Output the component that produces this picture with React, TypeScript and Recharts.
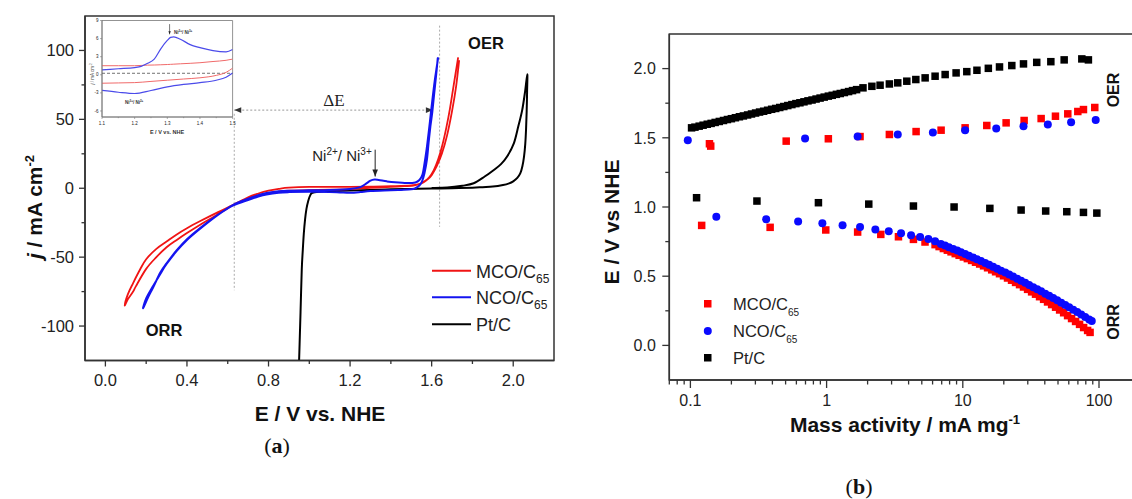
import React from 'react';
import {
  LineChart, Line, XAxis, YAxis, ReferenceLine, ReferenceArea,
  ScatterChart, Scatter,
} from 'recharts';

// ---------- panel (a): CV curves, E / V vs NHE  vs  j / mA cm-2 ----------
const MCO_E = [1.73, 1.718, 1.705, 1.69, 1.672, 1.652, 1.632, 1.61, 1.588, 1.565, 1.54, 1.51, 1.45, 1.4, 1.3, 1.2, 1.1, 1.0, 0.9, 0.85, 0.8, 0.75, 0.7, 0.65, 0.627, 0.55, 0.463, 0.4, 0.35, 0.3, 0.25, 0.2, 0.15, 0.136, 0.11, 0.095, 0.11, 0.136, 0.17, 0.2, 0.25, 0.3, 0.35, 0.4, 0.463, 0.55, 0.627, 0.7, 0.75, 0.8, 0.85, 0.9, 1.0, 1.1, 1.2, 1.3, 1.4, 1.5, 1.55, 1.58, 1.6, 1.625, 1.65, 1.675, 1.7, 1.72, 1.735];
const MCO_J = [95, 84, 72, 58, 44, 31, 21, 13, 8, 5, 3, 2, 1.4, 1.0, 0.3, -0.6, -1.1, -1.4, -1.8, -2.5, -3.5, -5.3, -7.3, -10.2, -12, -19, -26.6, -32.5, -37.5, -42.8, -50, -58.5, -71, -75, -80.5, -85, -77, -68.8, -59, -51.5, -44, -38.7, -33.5, -29, -24, -17.5, -12, -6.5, -3.8, -1.8, -0.5, 0.4, 1.0, 1.0, 1.0, 1.2, 1.5, 2.1, 3.6, 6.5, 9.5, 16, 25, 38, 56, 74, 93];

const NCO_E = [1.63, 1.622, 1.612, 1.603, 1.594, 1.585, 1.577, 1.565, 1.553, 1.54, 1.52, 1.5, 1.45, 1.4, 1.3, 1.25, 1.2, 1.15, 1.1, 1.0, 0.9, 0.85, 0.79, 0.75, 0.7, 0.627, 0.55, 0.463, 0.4, 0.35, 0.3, 0.27, 0.234, 0.21, 0.185, 0.2, 0.234, 0.27, 0.3, 0.35, 0.4, 0.463, 0.55, 0.627, 0.7, 0.79, 0.85, 0.9, 1.0, 1.1, 1.2, 1.25, 1.28, 1.3, 1.32, 1.34, 1.38, 1.42, 1.48, 1.52, 1.54, 1.555, 1.565, 1.575, 1.585, 1.595, 1.605, 1.615, 1.625, 1.632];
const NCO_J = [94.6, 82, 68, 55, 45, 33, 21, 11, 5, 2, 0, -0.8, -1.2, -1.5, -2.0, -2.8, -3.3, -3.0, -2.7, -2.6, -2.8, -3.2, -4.5, -6, -8.5, -12.5, -19.5, -29, -37, -45, -54.5, -61, -72, -79, -87, -80, -71, -62, -55, -45.5, -37.5, -29.5, -19.5, -12, -7.5, -3.5, -2.2, -1.8, -1.5, -1.2, -0.5, 0.8, 3.5, 5.5, 6.3, 6.0, 5.0, 4.3, 3.8, 4.2, 6, 10, 18, 28, 40, 53, 66, 78, 88, 95];

const PTC_E = [0.95, 0.953, 0.957, 0.963, 0.968, 0.973, 0.979, 0.986, 0.995, 1.005, 1.015, 1.05, 1.1, 1.2, 1.3, 1.4, 1.5, 1.6, 1.7, 1.8, 1.85, 1.9, 1.95, 1.98, 2.0, 2.02, 2.035, 2.045, 2.053, 2.059, 2.063, 2.066, 2.068, 2.069, 2.058, 2.044, 2.025, 2.003, 1.97, 1.94, 1.905, 1.86, 1.806, 1.75, 1.676, 1.6];
const PTC_J = [-125, -110, -90, -59, -45, -33, -23, -15, -9, -5, -3.3, -2.5, -2, -1.6, -1.2, -0.8, -0.5, -0.2, 0, 0.4, 0.8, 1.2, 2.3, 3.5, 5, 7.5, 11, 16, 23, 32, 43, 56, 70, 82.8, 70, 56.7, 45, 32.6, 23, 17.5, 13.3, 8.5, 3.6, 1.8, 0.5, 0.2];

const A_X_TICKS = [0, 0.2, 0.4, 0.6, 0.8, 1.0, 1.2, 1.4, 1.6, 1.8, 2.0];
const A_X_MAJOR = [0, 0.4, 0.8, 1.2, 1.6, 2.0];
const A_Y_TICKS = [-100, -75, -50, -25, 0, 25, 50, 75, 100];
const A_Y_MAJOR = [-100, -50, 0, 50, 100];

// inset: zoom on the Ni2+/Ni3+ region
const INSET_E_UP = [1.1, 1.15, 1.2, 1.22, 1.24, 1.26, 1.28, 1.3, 1.31, 1.32, 1.34, 1.37, 1.4, 1.44, 1.48, 1.5];
const INSET_NCO_UP = [0.8, 1.0, 1.2, 1.4, 1.9, 2.6, 4.3, 5.7, 6.2, 6.3, 5.9, 5.0, 4.5, 4.0, 3.8, 4.2];
const INSET_MCO_UP = [1.5, 1.5, 1.5, 1.55, 1.6, 1.62, 1.66, 1.7, 1.73, 1.76, 1.82, 1.9, 2.0, 2.2, 2.4, 2.6];
const INSET_E_DOWN = [1.1, 1.15, 1.2, 1.25, 1.3, 1.35, 1.4, 1.45, 1.48, 1.5];
const INSET_NCO_DOWN = [-2.6, -2.9, -3.1, -2.6, -2.0, -1.6, -1.3, -0.9, -0.4, 0.3];
const INSET_MCO_DOWN = [-1.4, -1.35, -1.3, -1.1, -0.9, -0.7, -0.5, -0.1, 0.4, 1.1];
const INSET_X_TICKS = [1.1, 1.15, 1.2, 1.25, 1.3, 1.35, 1.4, 1.45, 1.5];
const INSET_X_MAJOR = [1.1, 1.2, 1.3, 1.4, 1.5];
const INSET_Y_TICKS = [-6, -3, 0, 3, 6, 9];

// ---------- panel (b): mass activity / mA mg-1 ----------
const PTC_OER_X = [0.102, 0.108, 0.116, 0.124, 0.133, 0.142, 0.152, 0.163, 0.175, 0.187, 0.2, 0.214, 0.229, 0.245, 0.263, 0.281, 0.301, 0.322, 0.345, 0.369, 0.395, 0.423, 0.453, 0.485, 0.519, 0.556, 0.595, 0.637, 0.682, 0.73, 0.782, 0.837, 0.896, 0.96, 1.03, 1.1, 1.18, 1.26, 1.35, 1.45, 1.55, 1.66, 1.85, 2.15, 2.47, 2.89, 3.33, 3.88, 4.52, 5.29, 6.26, 7.42, 8.93, 10.7, 12.7, 15.4, 18.6, 22.9, 27.9, 34.9, 44.3, 55.5, 74.8, 83.6];
const PTC_OER_Y = [1.572, 1.577, 1.584, 1.591, 1.598, 1.604, 1.611, 1.618, 1.625, 1.632, 1.638, 1.645, 1.652, 1.658, 1.665, 1.672, 1.679, 1.686, 1.692, 1.699, 1.706, 1.712, 1.719, 1.726, 1.733, 1.74, 1.747, 1.753, 1.76, 1.767, 1.773, 1.78, 1.787, 1.794, 1.801, 1.807, 1.814, 1.82, 1.827, 1.834, 1.841, 1.848, 1.861, 1.872, 1.88, 1.889, 1.897, 1.909, 1.921, 1.933, 1.945, 1.957, 1.969, 1.978, 1.988, 2.002, 2.012, 2.022, 2.034, 2.045, 2.05, 2.063, 2.07, 2.063];
const PTC_ORR_X = [0.111, 0.308, 0.871, 2.04, 4.34, 8.63, 15.8, 26.8, 40.6, 58.0, 76.9, 96.4];
const PTC_ORR_Y = [1.067, 1.043, 1.031, 1.021, 1.007, 1.0, 0.99, 0.978, 0.971, 0.966, 0.961, 0.956];

const MCO_OER_X = [0.138, 0.141, 0.505, 1.03, 1.76, 2.89, 4.54, 6.93, 10.4, 15.0, 20.8, 28.2, 37.6, 47.9, 59.0, 69.9, 76.9, 93.1];
const MCO_OER_Y = [1.457, 1.44, 1.476, 1.493, 1.509, 1.524, 1.545, 1.555, 1.572, 1.589, 1.608, 1.625, 1.639, 1.656, 1.673, 1.69, 1.704, 1.719];
const MCO_ORR_X = [0.121, 0.385, 0.986, 1.69, 2.5, 3.37, 4.34, 5.28, 6.26, 6.7, 7.2, 7.7, 8.2, 8.8, 9.4, 10.1, 10.8, 11.6, 12.4, 13.3, 14.2, 15.2, 16.3, 17.4, 18.6, 19.9, 21.3, 22.8, 24.4, 26.1, 27.9, 29.9, 32, 34.2, 36.6, 39.2, 41.9, 44.9, 48, 51.4, 55, 58.8, 62.9, 67.3, 72, 77.1, 82.5, 86];
const MCO_ORR_Y = [0.867, 0.853, 0.834, 0.819, 0.802, 0.785, 0.766, 0.747, 0.728, 0.714, 0.7, 0.688, 0.676, 0.663, 0.651, 0.639, 0.627, 0.614, 0.601, 0.588, 0.575, 0.561, 0.546, 0.532, 0.518, 0.503, 0.487, 0.471, 0.455, 0.439, 0.422, 0.405, 0.387, 0.37, 0.352, 0.333, 0.314, 0.295, 0.276, 0.256, 0.236, 0.215, 0.194, 0.173, 0.152, 0.129, 0.108, 0.094];

const NCO_OER_X = [0.0957, 0.695, 1.69, 3.33, 6.03, 10.4, 17.6, 27.9, 42.1, 62.4, 94.6];
const NCO_OER_Y = [1.483, 1.495, 1.509, 1.524, 1.538, 1.555, 1.567, 1.584, 1.596, 1.613, 1.628];
const NCO_ORR_X = [0.155, 0.36, 0.618, 0.931, 1.31, 1.76, 2.28, 2.86, 3.52, 4.17, 4.86, 5.59, 6.26, 6.9, 7.4, 7.9, 8.5, 9.1, 9.7, 10.4, 11.1, 11.9, 12.7, 13.6, 14.6, 15.6, 16.7, 17.9, 19.1, 20.5, 21.9, 23.4, 25.1, 26.8, 28.7, 30.7, 32.9, 35.2, 37.6, 40.3, 43.1, 46.1, 49.3, 52.8, 56.5, 60.4, 64.7, 69.2, 74, 79.2, 84.7, 88.5];
const NCO_ORR_Y = [0.93, 0.911, 0.896, 0.882, 0.869, 0.855, 0.838, 0.824, 0.81, 0.795, 0.783, 0.768, 0.752, 0.733, 0.722, 0.71, 0.697, 0.685, 0.673, 0.66, 0.648, 0.635, 0.623, 0.609, 0.596, 0.582, 0.568, 0.554, 0.54, 0.526, 0.512, 0.498, 0.482, 0.468, 0.452, 0.437, 0.421, 0.406, 0.391, 0.374, 0.359, 0.342, 0.326, 0.309, 0.292, 0.275, 0.258, 0.241, 0.223, 0.205, 0.188, 0.176];

const B_X_TICKS = [0.07, 0.08, 0.09, 0.1, 0.2, 0.3, 0.4, 0.5, 0.6, 0.7, 0.8, 0.9, 1, 2, 3, 4, 5, 6, 7, 8, 9, 10, 20, 30, 40, 50, 60, 70, 80, 90, 100];
const B_X_MAJOR = [0.1, 1, 10, 100];
const B_Y_TICKS = [0, 0.25, 0.5, 0.75, 1.0, 1.25, 1.5, 1.75, 2.0];
const B_Y_MAJOR = [0, 0.5, 1.0, 1.5, 2.0];

const RED = '#f01414';
const BLUE = '#1414f0';
const BLACK = '#000';
const AXIS = '#333';
const TXT = '#222';
const SANS = '"Liberation Sans", Arial, sans-serif';
const SERIF = '"Liberation Serif", "DejaVu Serif", serif';

const zip = (xs: number[], ys: number[]) => xs.map((x, i) => ({ x, y: ys[i] }));
const isIn = (v: number, list: number[]) => list.some((m) => Math.abs(m - v) < 1e-9);

// Catmull-Rom curve, works for loops (x not monotonic)
const smooth = (context: any) => {
  let pts: number[][] = [];
  return {
    areaStart() {},
    areaEnd() {},
    lineStart() { pts = []; },
    point(x: number, y: number) { pts.push([+x, +y]); },
    lineEnd() {
      if (!pts.length) return;
      context.moveTo(pts[0][0], pts[0][1]);
      for (let i = 0; i < pts.length - 1; i++) {
        const p0 = pts[i - 1] || pts[i];
        const p1 = pts[i];
        const p2 = pts[i + 1];
        const p3 = pts[i + 2] || p2;
        context.bezierCurveTo(
          p1[0] + (p2[0] - p0[0]) / 6, p1[1] + (p2[1] - p0[1]) / 6,
          p2[0] - (p3[0] - p1[0]) / 6, p2[1] - (p3[1] - p1[1]) / 6,
          p2[0], p2[1],
        );
      }
    },
  };
};

type TickCfg = {
  majors: number[];
  majorLen: number;
  minorLen: number;
  fontSize: number;
  gap: number;
  width: number;
  color?: string;
  fmt: (v: number) => string;
};

const xTick = (c: TickCfg) => (props: any) => {
  const { x, y, payload } = props;
  const v = payload.value as number;
  const major = isIn(v, c.majors);
  return (
    <g>
      <line x1={x} x2={x} y1={y} y2={y + (major ? c.majorLen : c.minorLen)} stroke={c.color || AXIS} strokeWidth={c.width} />
      {major && (
        <text x={x} y={y + c.gap} textAnchor="middle" fontSize={c.fontSize} fontFamily={SANS} fill={TXT}>
          {c.fmt(v)}
        </text>
      )}
    </g>
  );
};

const yTick = (c: TickCfg) => (props: any) => {
  const { x, y, payload } = props;
  const v = payload.value as number;
  const major = isIn(v, c.majors);
  return (
    <g>
      <line x1={x} x2={x - (major ? c.majorLen : c.minorLen)} y1={y} y2={y} stroke={c.color || AXIS} strokeWidth={c.width} />
      {major && (
        <text x={x - c.gap} y={y + c.fontSize * 0.36} textAnchor="end" fontSize={c.fontSize} fontFamily={SANS} fill={TXT}>
          {c.fmt(v)}
        </text>
      )}
    </g>
  );
};

// line between the two segment ends, with optional arrow heads
const arrow = (o: { start?: boolean; end?: boolean; stroke: string; dash?: string; head: number; headFill: string; width: number }) =>
  (p: any) => {
    const x1 = Number(p.x1), y1 = Number(p.y1), x2 = Number(p.x2), y2 = Number(p.y2);
    const a = Math.atan2(y2 - y1, x2 - x1);
    const headPts = (x: number, y: number, ang: number) => {
      const h = o.head, w = o.head * 0.4;
      const bx = x - h * Math.cos(ang), by = y - h * Math.sin(ang);
      const nx = -Math.sin(ang) * w, ny = Math.cos(ang) * w;
      return `${x},${y} ${bx + nx},${by + ny} ${bx - nx},${by - ny}`;
    };
    return (
      <g>
        <line x1={x1} y1={y1} x2={x2} y2={y2} stroke={o.stroke} strokeWidth={o.width} strokeDasharray={o.dash} />
        {o.end && <polygon points={headPts(x2, y2, a)} fill={o.headFill} />}
        {o.start && <polygon points={headPts(x1, y1, a + Math.PI)} fill={o.headFill} />}
      </g>
    );
  };

function PanelA() {
  return (
    <LineChart width={560} height={499} margin={{ top: 16, right: 6, bottom: 108.5, left: 25 }}>
      <XAxis
        type="number" dataKey="x" domain={[-0.1, 2.2]} ticks={A_X_TICKS} interval={0}
        allowDataOverflow height={30} tickSize={0} tickMargin={0} tickLine={false}
        axisLine={{ stroke: AXIS, strokeWidth: 1.5 }}
        tick={xTick({ majors: A_X_MAJOR, majorLen: 6, minorLen: 3.5, fontSize: 16.5, gap: 25.5, width: 1.3, fmt: (v) => v.toFixed(1) })}
      />
      <YAxis
        type="number" dataKey="y" domain={[-125, 125]} ticks={A_Y_TICKS} interval={0}
        allowDataOverflow width={60} tickSize={0} tickMargin={0} tickLine={false}
        axisLine={{ stroke: AXIS, strokeWidth: 1.5 }}
        tick={yTick({ majors: A_Y_MAJOR, majorLen: 6, minorLen: 3.5, fontSize: 16.5, gap: 11, width: 1.3, fmt: (v) => String(v) })}
      />
      <ReferenceArea x1={-0.1} x2={2.2} y1={-125} y2={125} fill="none" stroke={AXIS} strokeWidth={1.5} ifOverflow="visible" />
      <ReferenceLine segment={[{ x: 0.632, y: 54 }, { x: 0.632, y: -74 }]} stroke="#aaa" strokeDasharray="2 2" />
      <ReferenceLine segment={[{ x: 1.639, y: 118 }, { x: 1.639, y: -28 }]} stroke="#aaa" strokeDasharray="2 2" />
      <ReferenceLine
        segment={[{ x: 0.632, y: 56.7 }, { x: 1.606, y: 56.7 }]}
        shape={arrow({ start: true, end: true, stroke: '#999', dash: '2 2', head: 7, headFill: '#333', width: 1 })}
      />
      <ReferenceLine
        segment={[{ x: 1.323, y: 28 }, { x: 1.323, y: 8.5 }]}
        shape={arrow({ end: true, stroke: '#222', head: 7, headFill: '#222', width: 1 })}
      />
      <Line data={zip(PTC_E, PTC_J)} dataKey="y" type={smooth as any} stroke={BLACK} strokeWidth={2} dot={false} isAnimationActive={false} />
      <Line data={zip(MCO_E, MCO_J)} dataKey="y" type={smooth as any} stroke={RED} strokeWidth={1.8} dot={false} isAnimationActive={false} />
      <Line data={zip(NCO_E, NCO_J)} dataKey="y" type={smooth as any} stroke={BLUE} strokeWidth={2} dot={false} isAnimationActive={false} />
    </LineChart>
  );
}

function Inset() {
  return (
    <LineChart width={160} height={125} margin={{ top: 10.5, right: 7.4, bottom: 10, left: 12 }}>
      <XAxis
        type="number" dataKey="x" domain={[1.1, 1.5]} ticks={INSET_X_TICKS} interval={0}
        allowDataOverflow height={8} tickSize={0} tickMargin={0} tickLine={false}
        axisLine={{ stroke: '#777', strokeWidth: 0.8 }}
        tick={xTick({ majors: INSET_X_MAJOR, majorLen: 2, minorLen: 1.2, fontSize: 4.5, gap: 8, width: 0.6, color: '#777', fmt: (v) => v.toFixed(1) })}
      />
      <YAxis
        type="number" dataKey="y" domain={[-7, 9]} ticks={INSET_Y_TICKS} interval={0}
        allowDataOverflow width={10} tickSize={0} tickMargin={0} tickLine={false}
        axisLine={{ stroke: '#777', strokeWidth: 0.8 }}
        tick={yTick({ majors: INSET_Y_TICKS, majorLen: 2, minorLen: 1.2, fontSize: 4.5, gap: 3.5, width: 0.6, color: '#777', fmt: (v) => String(v) })}
      />
      <ReferenceArea x1={1.1} x2={1.5} y1={-7} y2={9} fill="none" stroke="#777" strokeWidth={0.8} ifOverflow="visible" />
      <ReferenceLine y={0.25} stroke="#333" strokeDasharray="3 2" strokeWidth={0.7} />
      <ReferenceLine
        segment={[{ x: 1.307, y: 8.4 }, { x: 1.307, y: 6.7 }]}
        shape={arrow({ end: true, stroke: '#222', head: 3, headFill: '#222', width: 0.6 })}
      />
      <Line data={zip(INSET_E_UP, INSET_MCO_UP)} dataKey="y" type="monotone" stroke="#f06a6a" strokeWidth={1} dot={false} isAnimationActive={false} />
      <Line data={zip(INSET_E_DOWN, INSET_MCO_DOWN)} dataKey="y" type="monotone" stroke="#f06a6a" strokeWidth={1} dot={false} isAnimationActive={false} />
      <Line data={zip(INSET_E_UP, INSET_NCO_UP)} dataKey="y" type="monotone" stroke="#4b4bea" strokeWidth={1.2} dot={false} isAnimationActive={false} />
      <Line data={zip(INSET_E_DOWN, INSET_NCO_DOWN)} dataKey="y" type="monotone" stroke="#4b4bea" strokeWidth={1.2} dot={false} isAnimationActive={false} />
    </LineChart>
  );
}

const square = (color: string, s: number) => (p: any) => (
  <rect x={p.cx - s / 2} y={p.cy - s / 2} width={s} height={s} fill={color} />
);
const dot = (color: string, r: number) => (p: any) => <circle cx={p.cx} cy={p.cy} r={r} fill={color} />;

function PanelB() {
  return (
    <ScatterChart width={600} height={499} margin={{ top: 34, right: 20, bottom: 89, left: 49.3 }}>
      <XAxis
        type="number" dataKey="x" scale="log" domain={[0.07, 200]} ticks={B_X_TICKS} interval={0}
        allowDataOverflow height={30} tickSize={0} tickMargin={0} tickLine={false}
        axisLine={{ stroke: AXIS, strokeWidth: 1.5 }}
        tick={xTick({ majors: B_X_MAJOR, majorLen: 8, minorLen: 4.5, fontSize: 16, gap: 26, width: 1.3, fmt: (v) => String(v) })}
      />
      <YAxis
        type="number" dataKey="y" domain={[-0.25, 2.25]} ticks={B_Y_TICKS} interval={0}
        allowDataOverflow width={60} tickSize={0} tickMargin={0} tickLine={false}
        axisLine={{ stroke: AXIS, strokeWidth: 1.5 }}
        tick={yTick({ majors: B_Y_MAJOR, majorLen: 7, minorLen: 4, fontSize: 16, gap: 13.5, width: 1.3, fmt: (v) => v.toFixed(1) })}
      />
      <ReferenceArea x1={0.07} x2={200} y1={-0.25} y2={2.25} fill="none" stroke={AXIS} strokeWidth={1.5} ifOverflow="visible" />
      <Scatter data={zip(PTC_OER_X, PTC_OER_Y).concat(zip(PTC_ORR_X, PTC_ORR_Y))} shape={square(BLACK, 7.5)} isAnimationActive={false} />
      <Scatter data={zip(MCO_OER_X, MCO_OER_Y).concat(zip(MCO_ORR_X, MCO_ORR_Y))} shape={square('#ff0000', 7.5)} isAnimationActive={false} />
      <Scatter data={zip(NCO_OER_X, NCO_OER_Y).concat(zip(NCO_ORR_X, NCO_ORR_Y))} shape={dot('#0a0aff', 4)} isAnimationActive={false} />
    </ScatterChart>
  );
}

function Overlay() {
  const bold = { fontFamily: SANS, fontWeight: 700, fill: '#111' } as const;
  const reg = { fontFamily: SANS, fill: TXT } as const;
  return (
    <svg width={1132} height={499} style={{ position: 'absolute', left: 0, top: 0, pointerEvents: 'none' }}>
      {/* panel (a) axis titles */}
      <g transform="translate(34,207) rotate(-90)">
        <text x={0} y={7.5} textAnchor="middle" fontSize={21} {...bold}>
          <tspan fontStyle="italic">j</tspan> / mA cm<tspan fontSize={13} dy={-8}>-2</tspan>
        </text>
      </g>
      <text x={320} y={420.5} textAnchor="middle" fontSize={21} {...bold}>E / V vs. NHE</text>
      <text x={277} y={453} textAnchor="middle" fontSize={22} fontFamily={SERIF} fill="#111">
        (<tspan fontWeight={700}>a</tspan>)
      </text>
      <text x={486} y={48.5} textAnchor="middle" fontSize={16.5} {...bold}>OER</text>
      <text x={164} y={336} textAnchor="middle" fontSize={16.5} {...bold}>ORR</text>
      <text x={334} y={106} textAnchor="middle" fontSize={17} fontFamily={SERIF} fill="#222">ΔE</text>
      <text x={342} y={161} textAnchor="middle" fontSize={15} {...reg}>
        Ni<tspan fontSize={10} dy={-6}>2+</tspan><tspan dy={6}>/ Ni</tspan><tspan fontSize={10} dy={-6}>3+</tspan>
      </text>

      {/* panel (a) legend */}
      {[
        { c: RED, y: 270.7, t: 'MCO/C', s: '65' },
        { c: BLUE, y: 297.3, t: 'NCO/C', s: '65' },
        { c: BLACK, y: 324.3, t: 'Pt/C', s: '' },
      ].map((e) => (
        <g key={e.t}>
          <line x1={432} x2={471} y1={e.y} y2={e.y} stroke={e.c} strokeWidth={2} />
          <text x={476} y={e.y + 7} fontSize={18} {...reg}>
            {e.t}
            {e.s && <tspan fontSize={12} dy={5}>{e.s}</tspan>}
          </text>
        </g>
      ))}

      {/* inset texts */}
      <g transform="translate(92,74) rotate(-90)">
        <text x={0} y={1.5} textAnchor="middle" fontSize={4.5} fontFamily={SANS} fill="#444">
          <tspan fontStyle="italic">j</tspan> / mA cm<tspan fontSize={3} dy={-2}>-2</tspan>
        </text>
      </g>
      <text x={167} y={134} textAnchor="middle" fontSize={5.5} fontFamily={SANS} fontWeight={700} fill="#333">E / V vs. NHE</text>
      <text x={174} y={33.5} fontSize={4.5} fontFamily={SANS} fontWeight={700} fill="#333">
        Ni<tspan fontSize={3} dy={-2}>2+</tspan><tspan dy={2}>/ Ni</tspan><tspan fontSize={3} dy={-2}>3+</tspan>
      </text>
      <text x={125} y={103.5} fontSize={4.5} fontFamily={SANS} fontWeight={700} fill="#333">
        Ni<tspan fontSize={3} dy={-2}>3+</tspan><tspan dy={2}>/ Ni</tspan><tspan fontSize={3} dy={-2}>2+</tspan>
      </text>

      {/* panel (b) axis titles */}
      <g transform="translate(611,222) rotate(-90)">
        <text x={0} y={7.5} textAnchor="middle" fontSize={21} {...bold}>E / V vs NHE</text>
      </g>
      <text x={905} y={432} textAnchor="middle" fontSize={21} {...bold}>
        Mass activity / mA mg<tspan fontSize={13} dy={-8}>-1</tspan>
      </text>
      <text x={859} y={494} textAnchor="middle" fontSize={22} fontFamily={SERIF} fill="#111">
        (<tspan fontWeight={700}>b</tspan>)
      </text>
      <g transform="translate(1113,90) rotate(-90)">
        <text x={0} y={6} textAnchor="middle" fontSize={16} {...bold}>OER</text>
      </g>
      <g transform="translate(1113,322) rotate(-90)">
        <text x={0} y={6} textAnchor="middle" fontSize={16} {...bold}>ORR</text>
      </g>

      {/* panel (b) legend */}
      <rect x={704} y={300} width={7.5} height={7.5} fill="#ff0000" />
      <circle cx={707.8} cy={331} r={4} fill="#0a0aff" />
      <rect x={704} y={354} width={7.5} height={7.5} fill={BLACK} />
      <text x={733} y={310} fontSize={16.5} {...reg}>MCO/C<tspan fontSize={10} dy={6}>65</tspan></text>
      <text x={733} y={337} fontSize={16.5} {...reg}>NCO/C<tspan fontSize={10} dy={6}>65</tspan></text>
      <text x={733} y={364} fontSize={16.5} {...reg}>Pt/C</text>
    </svg>
  );
}

export default function App() {
  return (
    <div style={{ position: 'absolute', left: 0, top: 0, width: 1132, height: 499, overflow: 'hidden', background: '#fff' }}>
      <div style={{ position: 'absolute', left: 0, top: 0 }}>
        <PanelA />
      </div>
      <div style={{ position: 'absolute', left: 80, top: 10 }}>
        <Inset />
      </div>
      <div style={{ position: 'absolute', left: 560, top: 0 }}>
        <PanelB />
      </div>
      <Overlay />
    </div>
  );
}
